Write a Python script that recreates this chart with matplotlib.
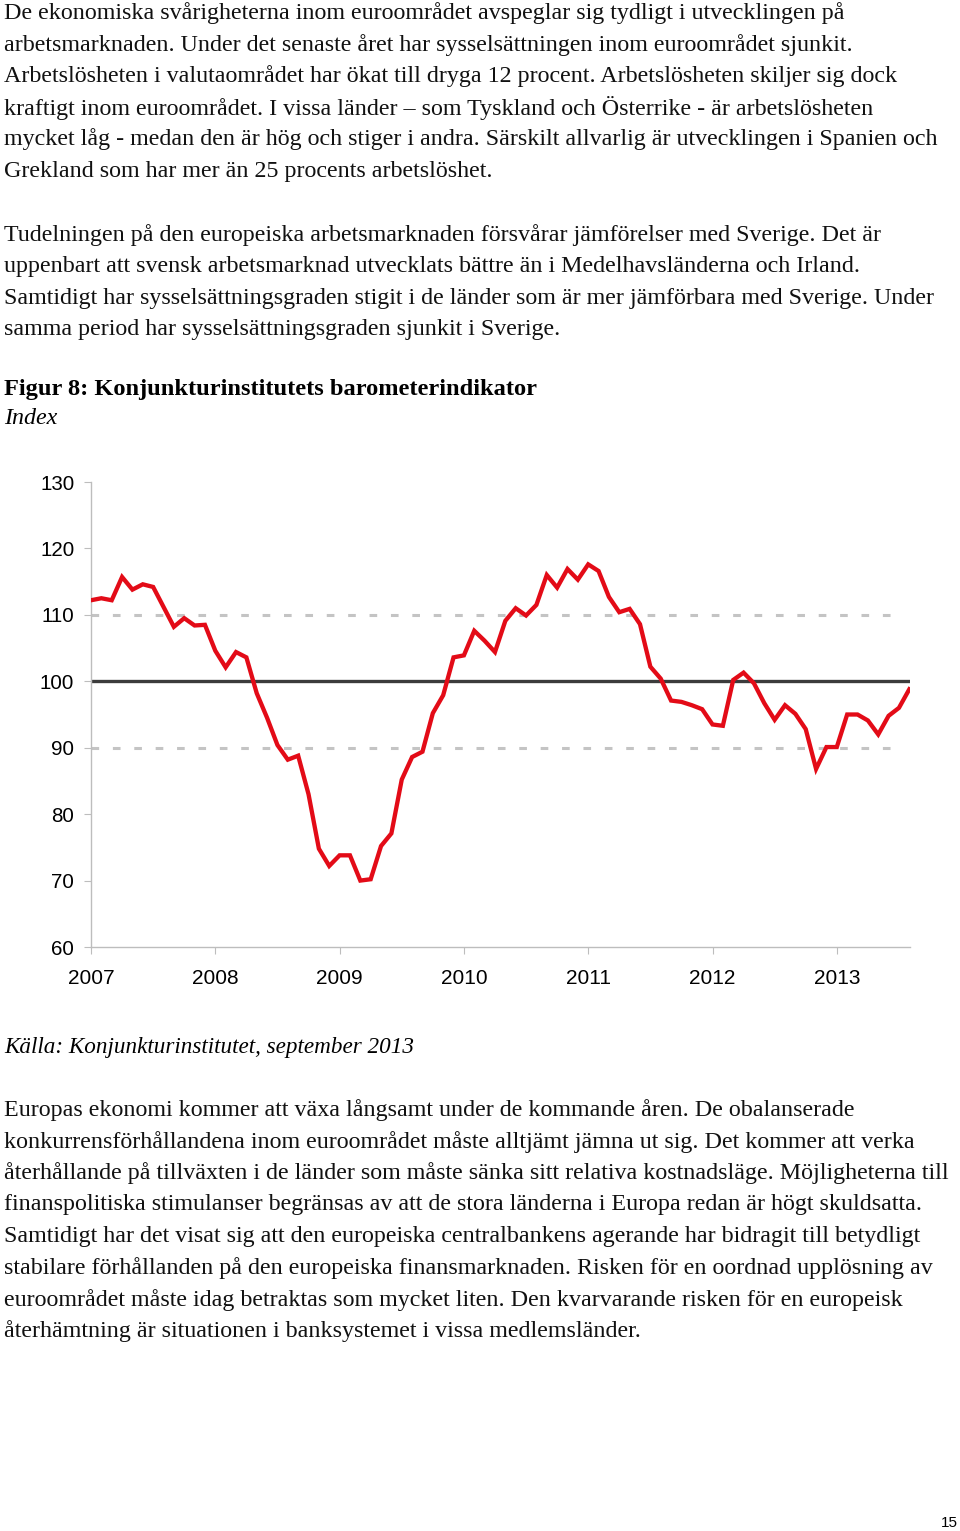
import matplotlib
matplotlib.use("Agg")
import matplotlib.pyplot as plt
import numpy as np

# Konjunkturinstitutets barometerindikator, monthly, Jan 2007 - Aug 2013
years = [2007, 2008, 2009, 2010, 2011, 2012, 2013]
values = [
    112.2, 112.5, 112.2, 115.7, 113.8, 114.6, 114.2, 111.2, 108.2, 109.5, 108.4, 108.5,
    104.6, 102.1, 104.4, 103.6, 98.2, 94.5, 90.4, 88.2, 88.8, 83.0, 74.8, 72.2,
    73.8, 73.8, 70.0, 70.2, 75.2, 77.1, 85.2, 88.6, 89.4, 95.2, 97.9, 103.6,
    103.9, 107.6, 106.1, 104.4, 109.1, 111.0, 109.9, 111.5, 116.0, 114.1, 116.9, 115.3,
    117.6, 116.6, 112.7, 110.4, 110.9, 108.6, 102.2, 100.4, 97.1, 96.9, 96.4, 95.8,
    93.5, 93.3, 100.2, 101.3, 99.7, 96.7, 94.2, 96.4, 95.1, 92.8, 86.8, 90.1,
    90.1, 95.0, 95.0, 94.1, 92.0, 94.8, 96.0, 98.8,
]
yticks = [60, 70, 80, 90, 100, 110, 120, 130]
dashed_levels = [90, 110]
mid_level = 100

para1 = [
    "De ekonomiska svårigheterna inom euroområdet avspeglar sig tydligt i utvecklingen på",
    "arbetsmarknaden. Under det senaste året har sysselsättningen inom euroområdet sjunkit.",
    "Arbetslösheten i valutaområdet har ökat till dryga 12 procent. Arbetslösheten skiljer sig dock",
    "kraftigt inom euroområdet. I vissa länder – som Tyskland och Österrike - är arbetslösheten",
    "mycket låg - medan den är hög och stiger i andra. Särskilt allvarlig är utvecklingen i Spanien och",
    "Grekland som har mer än 25 procents arbetslöshet.",
]
para2 = [
    "Tudelningen på den europeiska arbetsmarknaden försvårar jämförelser med Sverige. Det är",
    "uppenbart att svensk arbetsmarknad utvecklats bättre än i Medelhavsländerna och Irland.",
    "Samtidigt har sysselsättningsgraden stigit i de länder som är mer jämförbara med Sverige. Under",
    "samma period har sysselsättningsgraden sjunkit i Sverige.",
]
para3 = [
    "Europas ekonomi kommer att växa långsamt under de kommande åren. De obalanserade",
    "konkurrensförhållandena inom euroområdet måste alltjämt jämna ut sig. Det kommer att verka",
    "återhållande på tillväxten i de länder som måste sänka sitt relativa kostnadsläge. Möjligheterna till",
    "finanspolitiska stimulanser begränsas av att de stora länderna i Europa redan är högt skuldsatta.",
    "Samtidigt har det visat sig att den europeiska centralbankens agerande har bidragit till betydligt",
    "stabilare förhållanden på den europeiska finansmarknaden. Risken för en oordnad upplösning av",
    "euroområdet måste idag betraktas som mycket liten. Den kvarvarande risken för en europeisk",
    "återhämtning är situationen i banksystemet i vissa medlemsländer.",
]

W, H = 960, 1531
fig = plt.figure(figsize=(W / 100, H / 100), dpi=100)
serif = "Liberation Serif"
fs = 17.3


def put(lines, y0, step=31.6, **kw):
    for k, line in enumerate(lines):
        fig.text(4 / W, 1 - (y0 + k * step) / H, line, family=serif, fontsize=fs,
                 va="center", ha="left", color="#111111", **kw)


put(para1, 13)
put(para2, 235)
fig.text(4 / W, 1 - 389 / H, "Figur 8: Konjunkturinstitutets barometerindikator",
         family=serif, fontsize=fs + 0.3, weight="bold", va="center")
fig.text(4 / W, 1 - 418 / H, "Index", family=serif, fontsize=fs, style="italic", va="center")
fig.text(4 / W, 1 - 1047 / H, "Källa: Konjunkturinstitutet, september 2013",
         family=serif, fontsize=fs - 0.6, style="italic", va="center")
put(para3, 1110)
fig.text(960 / W - 0.002, 1 - 1523 / H, "15", family="Liberation Sans", fontsize=11,
         ha="right", va="center")

# chart
ax = fig.add_axes([91 / W, 1 - 947 / H, (910 - 91) / W, (947 - 482) / H])
x = 2007 + np.arange(len(values)) / 12
ax.set_xlim(2007, 2007 + 819 / 124.3)
ax.set_ylim(60, 130)

for lvl in dashed_levels:
    ax.plot([2007, 2013.52], [lvl, lvl], color="#c4c4c4", lw=2.2,
            dashes=(2.5, 4.5), zorder=1)
ax.axhline(mid_level, color="#3c3c3c", lw=2.4, zorder=2)
ax.plot(x, values, color="#e30b17", lw=3.1, zorder=3, solid_joinstyle="miter")

for s in ["top", "right"]:
    ax.spines[s].set_visible(False)
for s in ["left", "bottom"]:
    ax.spines[s].set_color("#bdbdbd")
    ax.spines[s].set_linewidth(1.0)

ax.set_yticks(yticks)
ax.set_xticks(years)
ax.set_xticklabels([str(y) for y in years])
ax.tick_params(axis="y", length=5, color="#bdbdbd", pad=7, labelsize=14.8)
ax.tick_params(axis="x", length=5, color="#bdbdbd", pad=11, labelsize=15)
for lab in ax.get_xticklabels() + ax.get_yticklabels():
    lab.set_family("Liberation Sans")

fig.savefig("out.png", dpi=100)
